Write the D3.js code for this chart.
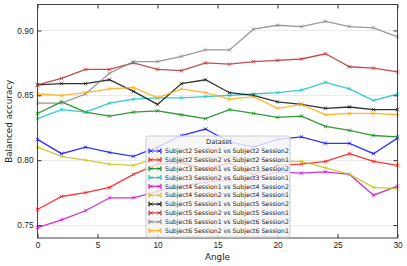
<!DOCTYPE html>
<html>
<head>
<meta charset="utf-8">
<script src="https://cdn.jsdelivr.net/npm/d3@7"></script>
<style>
  body { margin: 0; background: #fff; }
  svg { display: block; font-family: "DejaVu Sans", sans-serif; }
</style>
</head>
<body>
<div id="chart"></div>
<script>
const angles = [0, 2, 4, 6, 8, 10, 12, 14, 16, 18, 20, 22, 24, 26, 28, 30];

const seriesNames = [
  "Subject2 Session1 vs Subject2 Session2",
  "Subject2 Session2 vs Subject2 Session1",
  "Subject3 Session1 vs Subject3 Session2",
  "Subject3 Session2 vs Subject3 Session1",
  "Subject4 Session1 vs Subject4 Session2",
  "Subject4 Session2 vs Subject4 Session1",
  "Subject5 Session1 vs Subject5 Session2",
  "Subject5 Session2 vs Subject5 Session1",
  "Subject6 Session1 vs Subject6 Session2",
  "Subject6 Session2 vs Subject6 Session1"
];

const s2s1 = [0.816, 0.805, 0.810, 0.806, 0.803, 0.810, 0.819, 0.824, 0.814, 0.810, 0.816, 0.818, 0.813, 0.813, 0.805, 0.817];
const s2s2 = [0.762, 0.772, 0.775, 0.779, 0.789, 0.797, 0.798, 0.793, 0.798, 0.789, 0.796, 0.797, 0.799, 0.805, 0.799, 0.796];
const s3s1 = [0.836, 0.845, 0.837, 0.834, 0.837, 0.838, 0.835, 0.832, 0.839, 0.836, 0.833, 0.834, 0.826, 0.823, 0.819, 0.818];
const s3s2 = [0.832, 0.839, 0.837, 0.844, 0.847, 0.848, 0.848, 0.849, 0.850, 0.851, 0.852, 0.854, 0.860, 0.855, 0.846, 0.851];
const s4s1 = [0.748, 0.754, 0.761, 0.771, 0.771, 0.776, 0.780, 0.783, 0.785, 0.786, 0.791, 0.790, 0.791, 0.789, 0.773, 0.780];
const s4s2 = [0.810, 0.803, 0.800, 0.797, 0.796, 0.802, 0.802, 0.802, 0.803, 0.801, 0.799, 0.799, 0.794, 0.789, 0.779, 0.778];
const s5s1 = [0.858, 0.859, 0.859, 0.862, 0.853, 0.843, 0.859, 0.862, 0.852, 0.850, 0.845, 0.843, 0.840, 0.841, 0.839, 0.839];
const s5s2 = [0.858, 0.863, 0.870, 0.870, 0.875, 0.870, 0.869, 0.875, 0.874, 0.876, 0.877, 0.878, 0.882, 0.872, 0.871, 0.868];
const s6s1 = [0.844, 0.844, 0.851, 0.867, 0.876, 0.876, 0.880, 0.885, 0.885, 0.901, 0.904, 0.903, 0.907, 0.903, 0.902, 0.895];
const s6s2 = [0.851, 0.850, 0.852, 0.855, 0.856, 0.848, 0.855, 0.852, 0.847, 0.849, 0.840, 0.843, 0.835, 0.836, 0.836, 0.835];

const seriesValues = [s2s1, s2s2, s3s1, s3s2, s4s1, s4s2, s5s1, s5s2, s6s1, s6s2];
const colors = ["#0000ff", "#ff0000", "#008000", "#00bfbf", "#bf00bf", "#bfbf00", "#000000", "#b22222", "#808080", "#ffa500"];

const xTicks = [0, 5, 10, 15, 20, 25, 30];
const yTicks = [0.75, 0.80, 0.85, 0.90];

const width = 407;
const height = 266;
const marginLeft = 37.5;
const marginRight = 9.5;
const marginTop = 4.5;
const marginBottom = 28;

const svg = d3.select("#chart").append("svg")
  .attr("width", width)
  .attr("height", height);

const x = d3.scaleLinear().domain([0, 30]).range([marginLeft, width - marginRight]);
const y = d3.scaleLinear().domain([0.74, 0.92]).range([height - marginBottom, marginTop]);

// horizontal grid
svg.append("g")
  .selectAll("line")
  .data(yTicks)
  .join("line")
  .attr("x1", marginLeft).attr("x2", width - marginRight)
  .attr("y1", d => Math.round(y(d)) + 0.5).attr("y2", d => Math.round(y(d)) + 0.5)
  .attr("stroke", "#ebebeb");

const line = d3.line()
  .x((d, i) => x(angles[i]))
  .y(d => y(d));

const xMark = (cx, cy, r) =>
  `M${cx - r},${cy - r}L${cx + r},${cy + r}M${cx - r},${cy + r}L${cx + r},${cy - r}`;

const plot = svg.append("g");
seriesValues.forEach((vals, k) => {
  const g = plot.append("g").attr("stroke", colors[k]).attr("stroke-opacity", 0.8);
  g.append("path")
    .datum(vals)
    .attr("fill", "none")
    .attr("stroke-width", 1.3)
    .attr("d", line);
  g.selectAll("path.m")
    .data(vals)
    .join("path")
    .attr("class", "m")
    .attr("stroke-width", 0.8)
    .attr("d", (d, i) => xMark(x(angles[i]), y(d), 1.8));
});

// axes with inward ticks
const axisStyle = g => {
  g.select(".domain").remove();
  g.selectAll(".tick line").attr("stroke", "#333");
  g.selectAll(".tick text").attr("fill", "#222").attr("font-size", 8.3);
};

svg.append("g")
  .attr("transform", `translate(0,${height - marginBottom})`)
  .call(d3.axisBottom(x).tickValues(xTicks).tickSizeInner(-4).tickSizeOuter(0).tickPadding(4))
  .call(axisStyle);
svg.append("g")
  .attr("transform", `translate(0,${marginTop})`)
  .call(d3.axisTop(x).tickValues(xTicks).tickSizeInner(-4).tickSizeOuter(0).tickFormat(""))
  .call(axisStyle);
svg.append("g")
  .attr("transform", `translate(${marginLeft},0)`)
  .call(d3.axisLeft(y).tickValues(yTicks).tickSizeInner(-4).tickSizeOuter(0).tickPadding(4).tickFormat(d3.format(".2f")))
  .call(axisStyle);
svg.append("g")
  .attr("transform", `translate(${width - marginRight},0)`)
  .call(d3.axisRight(y).tickValues(yTicks).tickSizeInner(-4).tickSizeOuter(0).tickFormat(""))
  .call(axisStyle);

// frame
svg.append("rect")
  .attr("x", marginLeft).attr("y", marginTop)
  .attr("width", width - marginLeft - marginRight)
  .attr("height", height - marginTop - marginBottom)
  .attr("fill", "none")
  .attr("stroke", "#444");

// axis labels
svg.append("text")
  .attr("x", x(15)).attr("y", height - 6)
  .attr("text-anchor", "middle")
  .attr("font-size", 8.8)
  .attr("fill", "#222")
  .text("Angle");
svg.append("text")
  .attr("transform", `translate(12,${(marginTop + height - marginBottom) / 2}) rotate(-90)`)
  .attr("text-anchor", "middle")
  .attr("font-size", 8.8)
  .attr("fill", "#222")
  .text("Balanced accuracy");

// legend
const legX = 146, legY = 136, legW = 144, rowH = 8.85;
const legend = svg.append("g");
legend.append("rect")
  .attr("x", legX).attr("y", legY)
  .attr("width", legW).attr("height", 101)
  .attr("rx", 2)
  .attr("fill", "#f4f4f4").attr("fill-opacity", 0.82)
  .attr("stroke", "#cccccc");
legend.append("text")
  .attr("x", 219).attr("y", legY + 7.8)
  .attr("text-anchor", "middle")
  .attr("font-size", 6.6)
  .attr("fill", "#222")
  .text("Dataset");
seriesNames.forEach((name, k) => {
  const cy = legY + 15 + k * rowH;
  const g = legend.append("g").attr("stroke", colors[k]).attr("stroke-opacity", 0.8);
  const x0 = legX + 3, x1 = legX + 15;
  g.append("path")
    .attr("stroke-width", 1.2)
    .attr("d", `M${x0},${cy}L${x1},${cy}M${x0},${cy - 2.5}L${x0},${cy + 2.5}M${x1},${cy - 2.5}L${x1},${cy + 2.5}`);
  g.append("path")
    .attr("stroke-width", 0.8)
    .attr("d", xMark(x0 + 2, cy, 1.7) + xMark(x1 - 2, cy, 1.7));
  legend.append("text")
    .attr("x", legX + 19).attr("y", cy + 2.2)
    .attr("font-size", 6.2)
    .attr("fill", "#222")
    .text(name);
});
</script>
</body>
</html>
